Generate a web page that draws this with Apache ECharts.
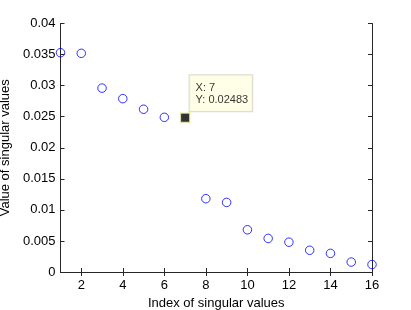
<!DOCTYPE html>
<html>
<head>
<meta charset="utf-8">
<script src="https://cdn.jsdelivr.net/npm/echarts@6/dist/echarts.min.js"></script>
<style>
html,body{margin:0;padding:0;background:#fff;}
#main{width:411px;height:310px;}
</style>
</head>
<body>
<div id="main"></div>
<script>
var indices = [1,2,3,4,5,6,7,8,9,10,11,12,13,14,15,16];
var singularValues = [0.0353,0.0352,0.0296,0.0279,0.0262,0.0249,0.02483,0.0118,0.0112,0.0068,0.0054,0.0048,0.0035,0.0030,0.0016,0.0012];
var xTicks = [2,4,6,8,10,12,14,16];
var tipIndex = 7;
var tipValue = 0.02483;
var xName = 'Index of singular values';
var yName = 'Value of singular values';

var font = 'Liberation Sans, Arial, Helvetica, sans-serif';
var axisColor = '#262626';

var chart = echarts.init(document.getElementById('main'), null, {renderer:'canvas'});
var pts = indices.map(function(x,i){ return [x, singularValues[i]]; }).filter(function(p){ return p[0] !== tipIndex; });

chart.setOption({
  animation:false,
  backgroundColor:'#fff',
  grid:{left:60.5, right:39, top:23.5, bottom:38, containLabel:false, outerBoundsMode:'none'},
  xAxis:[{
    type:'value', min:1, max:16, position:'bottom',
    name:xName, nameLocation:'middle', nameGap:18,
    nameTextStyle:{fontFamily:font, fontSize:13, color:'#000'},
    axisLine:{show:true, lineStyle:{color:axisColor, width:1}},
    axisTick:{show:true, inside:true, length:4, customValues:xTicks, lineStyle:{color:axisColor}},
    axisLabel:{customValues:xTicks, fontFamily:font, fontSize:13, color:'#000', margin:7},
    splitLine:{show:false}
  },{
    type:'value', min:1, max:16, position:'top',
    axisLine:{show:true, lineStyle:{color:axisColor, width:1}},
    axisTick:{show:true, inside:true, length:4, customValues:xTicks, lineStyle:{color:axisColor}},
    axisLabel:{show:false},
    splitLine:{show:false}
  }],
  yAxis:[{
    type:'value', min:0, max:0.04, interval:0.005, position:'left',
    name:yName, nameLocation:'middle', nameGap:44, nameRotate:90,
    nameTextStyle:{fontFamily:font, fontSize:13, color:'#000'},
    axisLine:{show:true, lineStyle:{color:axisColor, width:1}},
    axisTick:{show:true, inside:true, length:4, lineStyle:{color:axisColor}},
    axisLabel:{fontFamily:font, fontSize:13, color:'#000', margin:5},
    splitLine:{show:false}
  },{
    type:'value', min:0, max:0.04, interval:0.005, position:'right',
    axisLine:{show:true, lineStyle:{color:axisColor, width:1}},
    axisTick:{show:true, inside:true, length:4, lineStyle:{color:axisColor}},
    axisLabel:{show:false},
    splitLine:{show:false}
  }],
  series:[{
    type:'scatter', clip:false,
    symbol:'circle', symbolSize:8.5,
    itemStyle:{color:'rgba(0,0,0,0)', borderColor:'#0000ff', borderWidth:1},
    data:pts
  },{
    type:'scatter', clip:false,
    symbol:'rect', symbolSize:10,
    itemStyle:{color:'#000', borderColor:'#ffffcc', borderWidth:2},
    label:{
      show:true,
      position:[10.5,-36.5], align:'left', verticalAlign:'top',
      formatter:function(p){ return 'X: ' + p.value[0] + '\nY: ' + p.value[1]; },
      fontFamily:font, fontSize:11, lineHeight:12, color:'#000',
      backgroundColor:'#ffffe1', borderColor:'#d0d0c0', borderWidth:1,
      padding:[7,4,5,6]
    },
    data:[[tipIndex, tipValue]]
  }]
});
</script>
</body>
</html>
